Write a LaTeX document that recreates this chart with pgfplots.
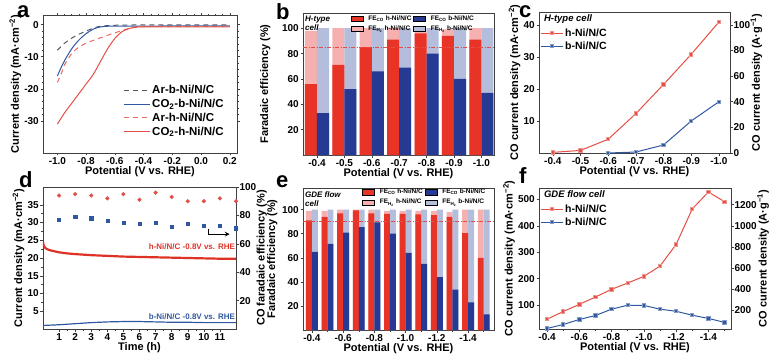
\documentclass[border=0pt]{standalone}
\usepackage{pgfplots}
\pgfplotsset{compat=1.18}
\usepackage{fontspec}
\setmainfont{Liberation Sans}
\definecolor{barred}{RGB}{232,52,38}
\definecolor{barpink}{RGB}{246,176,176}
\definecolor{barblue}{RGB}{38,58,148}
\definecolor{barlblue}{RGB}{180,190,220}
\definecolor{lnred}{RGB}{228,78,68}
\definecolor{lnblue}{RGB}{48,88,160}
\definecolor{dgray}{RGB}{78,88,100}
\definecolor{curvred}{RGB}{222,50,38}
\newcommand{\tk}{\fontsize{10}{11}\selectfont\bfseries}
\newcommand{\lb}{\fontsize{11}{12}\selectfont\bfseries}
\newcommand{\pl}{\fontsize{22}{24}\selectfont\bfseries}
\pgfplotsset{
  panel/.style={
    scale only axis, anchor=north west,
    tick align=outside,
    axis line style={line width=0.6pt, black!75},
    every tick/.style={black!75, line width=0.5pt},
    major tick length=2.5pt, minor tick length=1.5pt,
    xticklabel style={font=\tk, inner sep=1.5pt},
    yticklabel style={font=\tk, inner sep=1.5pt},
    /pgf/number format/assume math mode=true,
    /pgf/number format/1000 sep={},
    xlabel={Potential (V vs. RHE)},
    xlabel style={font=\lb, inner sep=0pt, yshift=-1pt},
    ylabel style={font=\lb, inner sep=0pt},
    ylabel shift=1.5pt,
  },
  rightax/.style={axis y line*=right, axis x line=none, xlabel={},
    yticklabel style={inner sep=0.8pt}, ylabel shift=-0.5pt},
  onedec/.style={xticklabel style={/pgf/number format/.cd, fixed, fixed zerofill, precision=1}},
  barleg/.style={legend columns=2, legend cell align=left,
    legend style={draw=none, fill=none, inner sep=1pt, font=\fontsize{6.5}{7.5}\selectfont\bfseries,
      /tikz/every odd column/.append style={column sep=3pt}},
    legend image code/.code={\fill[##1] (0pt,-2.6pt) rectangle (12pt,2.6pt);}},
  lineleg/.style={legend cell align=left,
    legend style={draw=none, fill=none, inner sep=1pt, font=\fontsize{10.5}{12}\selectfont\bfseries},
    legend image code/.code={\draw[mark repeat=2, mark phase=2, ##1] plot coordinates {(0pt,0pt) (11pt,0pt) (22pt,0pt)};}},
  hline/.style={lnred, line width=1pt, mark=square*, mark size=1.7pt, mark options={fill=lnred, draw=lnred!60!white}},
  bline/.style={lnblue, line width=1pt, mark=square*, mark size=1.7pt, mark options={fill=lnblue, draw=lnblue!60!white}},
}
\begin{document}
\begin{tikzpicture}
\useasboundingbox (0pt,0pt) rectangle (779pt,360pt);
% panel letters
\node[anchor=base west, inner sep=0pt, font=\pl] at (17pt,343pt) {a};
\node[anchor=base west, inner sep=0pt, font=\pl] at (276pt,341pt) {b};
\node[anchor=base west, inner sep=0pt, font=\pl] at (519pt,343pt) {c};
\node[anchor=base west, inner sep=0pt, font=\pl] at (19pt,173pt) {d};
\node[anchor=base west, inner sep=0pt, font=\pl] at (276pt,173pt) {e};
\node[anchor=base west, inner sep=0pt, font=\pl] at (519pt,177pt) {f};

% ---------------- a ----------------
\begin{axis}[panel, onedec, at={(43pt,345pt)}, width=194pt, height=138pt,
  xmin=-1.1, xmax=0.25, ymin=-40, ymax=3,
  xtick={-1,-0.8,-0.6,-0.4,-0.2,0,0.2}, ytick={-30,-20,-10,0},
  minor x tick num=3, minor y tick num=4,
  ylabel={Current density (mA·cm\textsuperscript{−2})},
  legend cell align=left,
  legend style={at={(0.41,0.51)}, anchor=north west, draw=none, fill=none, inner sep=0.5pt,
    font=\fontsize{11.5}{13}\selectfont\bfseries},
  legend image code/.code={\draw[#1] (0pt,0pt) -- (26pt,0pt);},
]
\addplot[dgray, line width=1pt, dash pattern=on 5pt off 4pt, smooth] coordinates {
(-1.0,-8) (-0.95,-5.8) (-0.9,-4.2) (-0.85,-3.0) (-0.8,-2.0) (-0.75,-1.1) (-0.7,-0.5) (-0.6,-0.2) (-0.4,-0.1) (0.2,-0.1)};
\addlegendentry{Ar-b-Ni/N/C}
\addplot[lnblue, line width=1pt, smooth] coordinates {
(-1.0,-16) (-0.97,-13) (-0.95,-11.2) (-0.9,-7.5) (-0.85,-4.8) (-0.8,-2.8) (-0.75,-1.4) (-0.7,-0.7) (-0.65,-0.5) (-0.6,-0.45) (0.2,-0.4)};
\addlegendentry{CO\textsubscript{2}-b-Ni/N/C}
\addplot[lnred!85!white, line width=1pt, dash pattern=on 5pt off 4pt, smooth] coordinates {
(-1.0,-18) (-0.97,-15) (-0.95,-12.5) (-0.9,-9) (-0.85,-7) (-0.8,-5.8) (-0.75,-4.9) (-0.7,-4.1) (-0.65,-3.3) (-0.6,-2.6) (-0.55,-1.8) (-0.5,-1.2) (-0.45,-0.8) (-0.4,-0.6) (0.2,-0.5)};
\addlegendentry{Ar-h-Ni/N/C}
\addplot[lnred, line width=1pt, smooth] coordinates {
(-1.0,-31) (-0.95,-27.5) (-0.9,-24.5) (-0.85,-21.5) (-0.8,-18.5) (-0.75,-15.5) (-0.7,-11.5) (-0.65,-7.5) (-0.6,-4.3) (-0.55,-2.2) (-0.5,-1.2) (-0.45,-0.8) (-0.4,-0.7) (0.2,-0.7)};
\addlegendentry{CO\textsubscript{2}-h-Ni/N/C}
\end{axis}

% ---------------- b ----------------
\begin{axis}[panel, barleg, at={(303pt,347pt)}, width=191pt, height=142pt,
  xmin=-0.51, xmax=6.46, ymin=0, ymax=112,
  xtick={0,...,6}, xticklabels={-0.4,-0.5,-0.6,-0.7,-0.8,-0.9,-1.0},
  ytick={20,40,60,80,100}, tick pos=left,
  ylabel={Faradaic efficiency (\%)},
  ylabel shift=10pt,
  legend style={at={(0.245,1.005)}, anchor=north west},
]
\addlegendimage{fill=barred}\addlegendentry{FE\textsubscript{CO} h-Ni/N/C}
\addlegendimage{fill=barblue}\addlegendentry{FE\textsubscript{CO} b-Ni/N/C}
\addlegendimage{fill=barpink}\addlegendentry{FE\textsubscript{H\textsubscript{2}} h-Ni/N/C}
\addlegendimage{fill=barlblue}\addlegendentry{FE\textsubscript{H\textsubscript{2}} b-Ni/N/C}
\addplot[forget plot, ybar, bar width=0.44, bar shift=-0.22, fill=barpink, draw=none] coordinates {(0,98) (1,100) (2,100) (3,100) (4,99) (5,99) (6,100)};
\addplot[forget plot, ybar, bar width=0.44, bar shift=0.22, fill=barlblue, draw=none] coordinates {(0,100) (1,100) (2,100) (3,100) (4,100) (5,100) (6,100)};
\addplot[forget plot, ybar, bar width=0.44, bar shift=-0.22, fill=barred, draw=none] coordinates {(0,56) (1,71) (2,85) (3,91) (4,96) (5,94) (6,91)};
\addplot[forget plot, ybar, bar width=0.44, bar shift=0.22, fill=barblue, draw=none] coordinates {(0,33) (1,52) (2,66) (3,69) (4,80) (5,60) (6,49)};
\addplot[forget plot, lnred, dash pattern=on 4pt off 1.5pt on 1pt off 1.5pt, line width=0.9pt] coordinates {(-0.51,85) (6.46,85)};
\node[anchor=north west, align=left, inner sep=1pt, font=\fontsize{8}{9}\selectfont\bfseries\itshape] at (rel axis cs:0.005,0.985) {H-type\\cell};
\end{axis}

% ---------------- c ----------------
\begin{axis}[panel, onedec, lineleg, at={(539pt,348pt)}, width=191pt, height=141pt,
  x dir=reverse, xmin=-1.04, xmax=-0.35, ymin=0, ymax=44,
  xtick={-1,-0.9,-0.8,-0.7,-0.6,-0.5,-0.4}, ytick={10,20,30,40}, tick pos=left,
  ylabel={CO current density (mA·cm\textsuperscript{−2})},
  legend style={at={(0.0,0.905)}, anchor=north west},
]
\addplot[hline] coordinates {(-0.4,0.2) (-0.5,0.8) (-0.6,4.3) (-0.7,12.3) (-0.8,21.4) (-0.9,30.8) (-1.0,40.9)};
\addlegendentry{h-Ni/N/C}
\addplot[bline] coordinates {(-0.6,0) (-0.7,0.3) (-0.8,2.5) (-0.9,10) (-1.0,16)};
\addlegendentry{b-Ni/N/C}
\node[anchor=north west, inner sep=1pt, font=\fontsize{9.5}{11}\selectfont\bfseries\itshape] at (rel axis cs:0.02,0.99) {H-type cell};
\end{axis}
\begin{axis}[panel, rightax, at={(539pt,348pt)}, width=191pt, height=141pt,
  x dir=reverse, xmin=-1.04, xmax=-0.35, ymin=0, ymax=110,
  ytick={0,20,40,60,80,100},
  ylabel={CO current density (A·g\textsuperscript{−1})},
]
\addplot[draw=none, forget plot] coordinates {(-0.5,0)};
\end{axis}

% ---------------- d ----------------
\begin{axis}[panel, at={(43pt,173pt)}, width=193pt, height=142pt,
  xmin=0, xmax=12, ymin=0, ymax=40,
  xtick={1,...,11}, ytick={5,10,...,35}, minor x tick num=1, minor y tick num=1,
  tick pos=left, xlabel={Time (h)},
  ylabel={Current density (mA·cm\textsuperscript{−2})},
]
\addplot[curvred, line width=2.2pt] coordinates {
(0,24.5) (0.03,23.8) (0.08,23.2) (0.15,22.8) (0.3,22.4) (0.5,22.1) (0.8,21.8) (1,21.6) (1.5,21.3) (2,21.1) (3,20.8) (4,20.6) (5,20.4) (6,20.3) (7,20.2) (8,20.1) (9,20.0) (10,19.9) (11,19.8) (12,19.8)};
\addplot[lnblue, line width=1.2pt] coordinates {
(0,1.0) (1,1.2) (2,1.5) (3,1.8) (4,2.0) (5,2.1) (6,2.1) (7,2.0) (8,1.9) (9,1.9) (10,1.8) (11,1.8) (12,1.8)};
\node[anchor=east, inner sep=0pt, text=curvred, font=\fontsize{8}{9}\selectfont\bfseries] at (axis cs:11.95,23.3) {h-Ni/N/C -0.8V vs. RHE};
\node[anchor=east, inner sep=0pt, text=lnblue, font=\fontsize{8}{9}\selectfont\bfseries] at (axis cs:11.95,3.6) {b-Ni/N/C -0.8V vs. RHE};
\end{axis}
\begin{axis}[panel, rightax, at={(43pt,173pt)}, width=193pt, height=142pt,
  xmin=0, xmax=12, ymin=0, ymax=100,
  ytick={20,40,60,80,100},
  ylabel={CO faradaic efficiency (\%)},
]
\addplot[only marks, mark=*, mark size=1.9pt, lnred] coordinates {
(1,94) (2,95) (3,94) (4,92) (5,95) (6,91) (7,96) (8,93) (9,90) (10,90) (11,92) (12,90)};
\addplot[only marks, mark=square*, mark size=1.6pt, lnblue] coordinates {
(1,77) (2,79) (3,78) (4,76) (5,75) (6,74) (7,75) (8,72) (9,74) (10,73) (11,73) (12,71)};
\draw[-stealth, line width=1.1pt] (axis cs:10.3,70.5) -- (axis cs:10.3,66.8) -- (axis cs:11.6,66.8);
\end{axis}

% ---------------- e ----------------
\begin{axis}[panel, barleg, at={(303pt,172pt)}, width=191pt, height=142pt,
  xmin=-0.57, xmax=11.66, ymin=0, ymax=118,
  xtick={0,2,...,10}, xticklabels={-0.4,-0.6,-0.8,-1.0,-1.2,-1.4},
  minor xtick={1,3,...,11},
  ytick={20,40,60,80,100}, tick pos=left,
  ylabel={Faradaic efficiency (\%)},
  ylabel shift=3pt,
  legend style={at={(0.305,1.015)}, anchor=north west},
]
\addlegendimage{fill=barred}\addlegendentry{FE\textsubscript{CO} h-Ni/N/C}
\addlegendimage{fill=barblue}\addlegendentry{FE\textsubscript{CO} b-Ni/N/C}
\addlegendimage{fill=barpink}\addlegendentry{FE\textsubscript{H\textsubscript{2}} h-Ni/N/C}
\addlegendimage{fill=barlblue}\addlegendentry{FE\textsubscript{H\textsubscript{2}} b-Ni/N/C}
\addplot[forget plot, ybar, bar width=0.38, bar shift=-0.19, fill=barpink, draw=none] coordinates {(0,99) (1,99) (2,100) (3,100) (4,100) (5,99) (6,99) (7,99) (8,99) (9,98) (10,100) (11,100)};
\addplot[forget plot, ybar, bar width=0.38, bar shift=0.19, fill=barlblue, draw=none] coordinates {(0,100) (1,100) (2,100) (3,100) (4,100) (5,100) (6,100) (7,100) (8,100) (9,100) (10,100) (11,100)};
\addplot[forget plot, ybar, bar width=0.38, bar shift=-0.19, fill=barred, draw=none] coordinates {(0,91) (1,94) (2,97) (3,99.5) (4,97) (5,96.5) (6,96.5) (7,96) (8,95.5) (9,94) (10,80.5) (11,60)};
\addplot[forget plot, ybar, bar width=0.38, bar shift=0.19, fill=barblue, draw=none] coordinates {(0,65) (1,71.5) (2,81) (3,85.5) (4,89.5) (5,80) (6,64) (7,55) (8,44) (9,33.5) (10,23) (11,13)};
\addplot[forget plot, lnred, dash pattern=on 4pt off 1.5pt on 1pt off 1.5pt, line width=0.9pt] coordinates {(-0.57,90) (11.66,90)};
\node[anchor=north west, align=left, inner sep=1pt, font=\fontsize{8}{9}\selectfont\bfseries\itshape] at (rel axis cs:0.005,0.985) {GDE flow\\cell};
\end{axis}

% ---------------- f ----------------
\begin{axis}[panel, onedec, lineleg, at={(539pt,172pt)}, width=192pt, height=141pt,
  x dir=reverse, xmin=-1.54, xmax=-0.35, ymin=10, ymax=543,
  xtick={-1.4,-1.2,-1,-0.8,-0.6,-0.4}, minor xtick={-1.5,-1.3,-1.1,-0.9,-0.7,-0.5},
  ytick={100,200,300,400,500}, tick pos=left,
  ylabel={CO current density (mA·cm\textsuperscript{−2})},
  legend style={at={(0.0,0.905)}, anchor=north west},
]
\addplot[hline] coordinates {(-0.4,47) (-0.5,76) (-0.6,103) (-0.7,131) (-0.8,160) (-0.9,184) (-1.0,209) (-1.1,248) (-1.2,330) (-1.3,464) (-1.4,528) (-1.5,491)};
\addlegendentry{h-Ni/N/C}
\addplot[bline] coordinates {(-0.4,12) (-0.5,27) (-0.6,46) (-0.7,61) (-0.8,85) (-0.9,100) (-1.0,99) (-1.1,85) (-1.2,77) (-1.3,62) (-1.4,50) (-1.5,35)};
\addlegendentry{b-Ni/N/C}
\node[anchor=north west, inner sep=1pt, font=\fontsize{9.5}{11}\selectfont\bfseries\itshape] at (rel axis cs:0.02,0.99) {GDE flow cell};
\end{axis}
\begin{axis}[panel, rightax, at={(539pt,172pt)}, width=192pt, height=141pt,
  x dir=reverse, xmin=-1.54, xmax=-0.35, ymin=25, ymax=1357.5,
  ytick={200,400,600,800,1000,1200},
  ylabel={CO current density (A·g\textsuperscript{−1})},
]
\addplot[draw=none, forget plot] coordinates {(-0.5,100)};
\end{axis}
\end{tikzpicture}
\end{document}
